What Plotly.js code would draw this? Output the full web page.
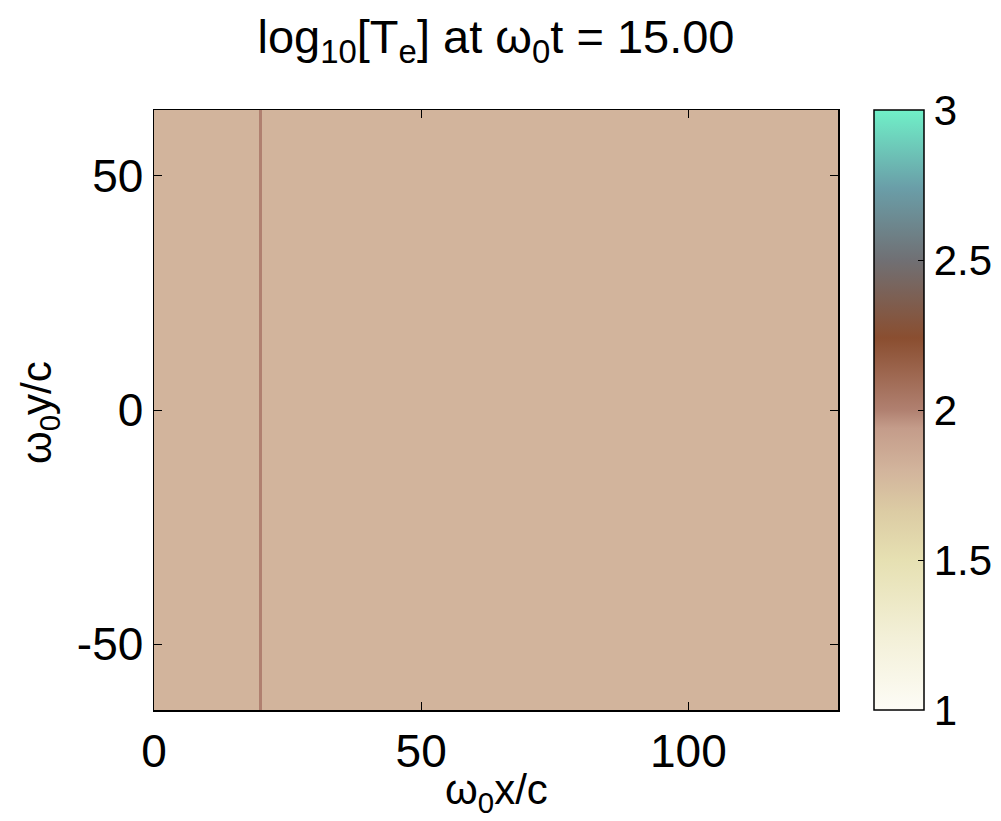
<!DOCTYPE html>
<html>
<head>
<meta charset="utf-8">
<script src="https://cdn.plot.ly/plotly-3.0.1.min.js"></script>
<style>html,body{margin:0;padding:0;background:#fff;}#chart{width:1001px;height:821px;}</style>
</head>
<body>
<div id="chart"></div>
<script>
// Cell edges along x (omega0 x / c) and y (omega0 y / c)
const xEdges = [0, 19.6, 20.2, 128];
const yEdges = [-64, 64];
// log10(Te) values per column (one row)
const zValues = [[1.8, 2.0, 1.8]];
// colorbar ticks
const cbTicks = [1, 1.5, 2, 2.5, 3];
const cbTickText = ['1', '1.5', '2', '2.5', '3'];
const xTicks = [0, 50, 100];
const xTickText = ['0', '50', '100'];
const yTicks = [-50, 0, 50];
const yTickText = ['-50', '0', '50'];

const colorscale = [
  [0.00, '#fdfcf6'],
  [0.12, '#f3f0d8'],
  [0.25, '#e6e0b2'],
  [0.33, '#dccca4'],
  [0.40, '#d2b49c'],
  [0.47, '#c49c8a'],
  [0.50, '#b08070'],
  [0.62, '#8a4e30'],
  [0.75, '#707074'],
  [0.87, '#6a9ea8'],
  [1.00, '#70f0c8']
];

const font = {family: 'Liberation Sans, Arial, sans-serif', color: '#000'};

const trace = {
  type: 'heatmap',
  x: xEdges,
  y: yEdges,
  z: zValues,
  zmin: 1, zmax: 3,
  colorscale: colorscale,
  showscale: true,
  colorbar: {
    x: 1.052, xanchor: 'left', xref: 'paper',
    y: 0.5, yanchor: 'middle',
    len: 1.0, lenmode: 'fraction',
    thickness: 50, thicknessmode: 'pixels',
    outlinewidth: 1.5, outlinecolor: '#000',
    tickvals: cbTicks, ticktext: cbTickText,
    ticks: 'inside', ticklen: 6, tickcolor: '#000',
    tickfont: Object.assign({size: 42}, font),
    ypad: 0, xpad: 0
  },
  hoverinfo: 'skip'
};

const layout = {
  width: 1001, height: 821,
  margin: {l: 154, r: 163, t: 110, b: 111, autoexpand: false},
  paper_bgcolor: '#fff', plot_bgcolor: '#fff',
  font: font,
  title: {
    text: 'log<sub>10</sub>[T<sub>e</sub>] at ω<sub>0</sub>t = 15.00',
    x: 0.5, xanchor: 'center', xref: 'paper', y: 0.955, yanchor: 'middle',
    font: Object.assign({size: 47}, font)
  },
  xaxis: {
    range: [0, 128], tickvals: xTicks, ticktext: xTickText,
    ticks: 'inside', ticklen: 8, tickcolor: '#000',
    showline: true, linecolor: '#000', linewidth: 1.5, mirror: 'ticks',
    showgrid: false, zeroline: false,
    tickfont: Object.assign({size: 46}, font)
  },
  yaxis: {
    range: [-64, 64], tickvals: yTicks, ticktext: yTickText,
    ticks: 'inside', ticklen: 8, tickcolor: '#000',
    showline: true, linecolor: '#000', linewidth: 1.5, mirror: 'ticks',
    showgrid: false, zeroline: false,
    tickfont: Object.assign({size: 46}, font)
  },
  annotations: [
    {text: 'ω<sub>0</sub>x/c', xref: 'paper', yref: 'paper', x: 0.5, y: -0.137,
     xanchor: 'center', yanchor: 'middle', showarrow: false, font: Object.assign({size: 42}, font)},
    {text: 'ω<sub>0</sub>y/c', xref: 'paper', yref: 'paper', x: -0.168, y: 0.495,
     xanchor: 'center', yanchor: 'middle', textangle: -90, showarrow: false, font: Object.assign({size: 42}, font)}
  ]
};

Plotly.newPlot('chart', [trace], layout, {staticPlot: true, displayModeBar: false});
</script>
</body>
</html>
